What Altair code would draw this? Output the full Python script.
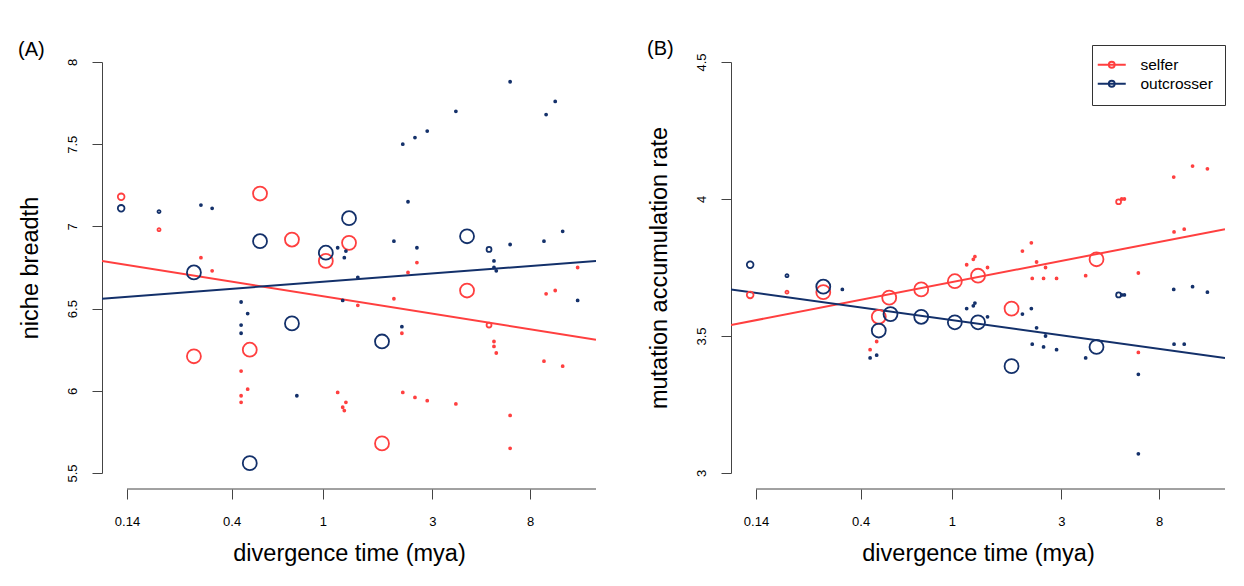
import altair as alt
import pandas as pd

FONT = "Liberation Sans"
RED = "#FF3F3F"
NAVY = "#13306A"
AXIS_GREY = "#444"

# ---------------- Panel A: niche breadth ----------------
a_self_x = [0.132, 0.193, 0.294, 0.329, 0.532, 0.733, 0.274, 0.48, 0.44, 0.47, 0.44, 0.44,
            1.03, 1.30, 2.57, 2.35, 12.9, 4.25, 1.42, 2.04, 2.21, 9.4, 10.3, 5.3,
            5.57, 5.57, 5.7, 9.2, 11.1, 1.16, 1.22, 1.26, 1.24, 2.23, 2.52, 2.85, 3.8,
            6.55, 6.55, 1.81]
a_self_y = [7.18, 6.98, 6.81, 6.73, 7.20, 6.92, 6.21, 6.25, 6.12, 6.01, 5.97, 5.93,
            6.79, 6.90, 6.78, 6.72, 6.75, 6.61, 6.52, 6.56, 6.35, 6.59, 6.61, 6.40,
            6.30, 6.27, 6.23, 6.18, 6.15, 5.99, 5.90, 5.93, 5.88, 5.99, 5.96, 5.94, 5.92,
            5.85, 5.65, 5.68]
a_self_n = [5, 1.5, 1, 1, 20, 20, 20, 20, 1, 1, 1, 1,
            20, 20, 1, 1, 1, 20, 1, 1, 1, 1, 1, 3,
            1, 1, 1, 1, 1, 1, 1, 1, 1, 1, 1, 1, 1,
            1, 1, 20]

a_out_x = [0.132, 0.193, 0.294, 0.329, 0.274, 0.532, 0.733, 0.48, 0.44, 0.47, 0.44, 0.44,
           0.77, 1.03, 1.30, 1.16, 1.26, 1.24, 1.42, 2.04, 2.57, 2.35, 2.23, 2.52, 2.85, 3.8,
           6.55, 9.4, 10.3, 4.25, 5.3, 5.57, 5.57, 5.7, 6.55, 9.2, 11.1, 1.22, 1.81, 2.21, 12.9]
a_out_y = [7.11, 7.09, 7.13, 7.11, 6.72, 6.91, 6.41, 5.56, 6.54, 6.47, 6.40, 6.35,
           5.97, 6.84, 7.05, 6.87, 6.85, 6.81, 6.69, 6.91, 6.87, 7.15, 7.50, 7.54, 7.58, 7.70,
           7.88, 7.68, 7.76, 6.94, 6.86, 6.79, 6.75, 6.73, 6.89, 6.91, 6.97, 6.55, 6.30, 6.39, 6.55]
a_out_n = [5, 1.5, 1, 1, 20, 20, 20, 20, 1, 1, 1, 1,
           1, 20, 20, 1, 1, 1, 1, 1, 1, 1, 1, 1, 1, 1,
           1, 1, 1, 20, 3, 1, 1, 1, 1, 1, 1, 1, 20, 1, 1]

# fitted lines (value at left and right edge of the plot)
line_x = [0.1089, 15.51]
a_self_fit = [6.79, 6.31]
a_out_fit = [6.56, 6.79]

# ---------------- Panel B: mutation accumulation rate ----------------
b_self_x = [0.132, 0.191, 0.275, 0.48, 0.533, 0.735, 1.03, 1.30, 1.82, 4.27, 0.44, 0.47,
            1.16, 1.24, 1.26, 1.43, 2.03, 2.22, 2.34, 2.56, 2.24, 2.51, 2.86, 3.83,
            5.33, 5.5, 5.65, 9.27, 11.2, 13.0, 9.3, 10.3, 6.5, 6.5]
b_self_y = [3.65, 3.66, 3.66, 3.57, 3.64, 3.67, 3.70, 3.72, 3.60, 3.78, 3.45, 3.48,
            3.76, 3.78, 3.79, 3.75, 3.81, 3.84, 3.77, 3.75, 3.71, 3.71, 3.71, 3.72,
            3.99, 4.00, 4.00, 4.08, 4.12, 4.11, 3.88, 3.89, 3.73, 3.44]
b_self_n = [5, 1.5, 20, 20, 20, 20, 20, 20, 20, 20, 1, 1,
            1, 1, 1, 1, 1, 1, 1, 1, 1, 1, 1, 1,
            3, 1, 1, 1, 1, 1, 1, 1, 1, 1]

b_out_x = [0.132, 0.191, 0.275, 0.333, 0.48, 0.54, 0.735, 1.03, 1.30, 1.82, 4.27, 0.44, 0.47,
           1.16, 1.24, 1.26, 1.43, 2.03, 2.22, 2.34, 2.56, 2.24, 2.51, 2.86, 3.83,
           5.33, 5.5, 5.65, 9.27, 11.2, 13.0, 9.3, 10.3, 6.5, 6.5]
b_out_y = [3.76, 3.72, 3.68, 3.67, 3.52, 3.58, 3.57, 3.55, 3.55, 3.39, 3.46, 3.42, 3.43,
           3.60, 3.61, 3.62, 3.57, 3.58, 3.60, 3.53, 3.50, 3.47, 3.46, 3.45, 3.42,
           3.65, 3.65, 3.65, 3.67, 3.68, 3.66, 3.47, 3.47, 3.36, 3.07]
b_out_n = [5, 1.5, 20, 1, 20, 20, 20, 20, 20, 20, 20, 1, 1,
           1, 1, 1, 1, 1, 1, 1, 1, 1, 1, 1, 1,
           3, 1, 1, 1, 1, 1, 1, 1, 1, 1]

b_self_fit = [3.54, 3.89]
b_out_fit = [3.67, 3.42]

x_ticks = [0.14, 0.4, 1, 3, 8]
a_y_ticks = [5.5, 6, 6.5, 7, 7.5, 8]
b_y_ticks = [3, 3.5, 4, 4.5]
groups = ["selfer", "outcrosser"]

PLOT_W = 494
PLOT_H = 411
X_AXIS_OFFSET = 16


def points_df(sx, sy, sn, ox, oy, on):
    return pd.concat([
        pd.DataFrame({"x": sx, "y": sy, "n": sn, "g": "selfer"}),
        pd.DataFrame({"x": ox, "y": oy, "n": on, "g": "outcrosser"}),
    ])


def lines_df(sfit, ofit):
    return pd.concat([
        pd.DataFrame({"x": line_x, "y": sfit, "g": "selfer"}),
        pd.DataFrame({"x": line_x, "y": ofit, "g": "outcrosser"}),
    ])


# legend glyph: a short line with a small open circle (scale = sqrt(size)/2 = 5px per unit)
LEG_PATH = "M-2.8,0L2.8,0M0.6,0A0.6,0.6,0,1,1,-0.6,0A0.6,0.6,0,1,1,0.6,0Z"


def panel(pts, lns, ytitle, yticks, label, show_legend, title_offset):
    xscale = alt.Scale(type="log", domain=line_x, nice=False)
    xs = alt.X("x:Q", scale=xscale,
               axis=alt.Axis(values=x_ticks, format="~g", title="divergence time (mya)",
                             offset=X_AXIS_OFFSET, tickSize=10, labelPadding=16, titlePadding=13,
                             labelFontSize=13, titleFontSize=23.5, grid=False, domain=False,
                             tickColor=AXIS_GREY, labelFlush=False,
                             labelFont=FONT, titleFont=FONT, titleFontWeight="normal",
                             titleColor="black", labelColor="black"))
    ys = alt.Y("y:Q",
               scale=alt.Scale(domain=[yticks[0], yticks[-1]], nice=False, zero=False),
               axis=alt.Axis(values=yticks, format="~g", title=ytitle,
                             tickSize=10, labelPadding=13, titlePadding=24,
                             labelAngle=270, labelAlign="center", labelBaseline="bottom",
                             labelFontSize=13, titleFontSize=23.5, grid=False,
                             domainColor=AXIS_GREY, tickColor=AXIS_GREY, labelFlush=False,
                             labelFont=FONT, titleFont=FONT, titleFontWeight="normal",
                             titleColor="black", labelColor="black"))
    if show_legend:
        leg = alt.Legend(title=None,
                         orient="none", legendX=361, legendY=-17,
                         symbolType=LEG_PATH, symbolSize=100, symbolStrokeWidth=1.8,
                         symbolFillColor="transparent", labelFontSize=15.5, labelFont=FONT,
                         labelColor="black", strokeColor="#333", padding=12,
                         labelOffset=21, rowPadding=2, fillColor="white")
    else:
        leg = None
    color = alt.Color("g:N", scale=alt.Scale(domain=groups, range=[RED, NAVY]), legend=leg)
    p = alt.Chart(pts).mark_point(filled=False, strokeWidth=1.8, opacity=1).encode(
        x=xs, y=ys, color=color,
        size=alt.Size("n:Q", scale=alt.Scale(domain=[1, 20], range=[4, 195]), legend=None),
    )
    l = alt.Chart(lns).mark_line(strokeWidth=2, clip=True).encode(x=xs, y=ys, color=color)
    # x-axis line, running from the first tick to the right edge (as in base R)
    axis_line = alt.Chart(pd.DataFrame({"a": [x_ticks[0]], "b": [line_x[1]]})).mark_rule(
        color=AXIS_GREY, strokeWidth=1).encode(
        x=alt.X("a:Q", scale=xscale), x2="b:Q",
        y=alt.value(PLOT_H + X_AXIS_OFFSET))
    return alt.layer(l, p, axis_line).properties(
        width=PLOT_W, height=PLOT_H,
        title=alt.TitleParams(label, anchor="start", frame="bounds", fontSize=20,
                              font=FONT, fontWeight="normal", offset=title_offset,
                              color="black"),
    )


A = panel(points_df(a_self_x, a_self_y, a_self_n, a_out_x, a_out_y, a_out_n),
          lines_df(a_self_fit, a_out_fit), "niche breadth", a_y_ticks, "(A)", False, -2)
B = panel(points_df(b_self_x, b_self_y, b_self_n, b_out_x, b_out_y, b_out_n),
          lines_df(b_self_fit, b_out_fit), "mutation accumulation rate", b_y_ticks, "(B)", True, -14)

chart = alt.hconcat(A, B, spacing=50).resolve_scale(color="independent").resolve_legend(
    color="independent").properties(
    padding={"left": 9, "top": 30, "right": 5, "bottom": 5}
).configure(background="white", view=alt.ViewConfig(stroke="transparent", strokeWidth=0))

chart.save("out.html", embed_options={"renderer": "svg", "actions": False})
